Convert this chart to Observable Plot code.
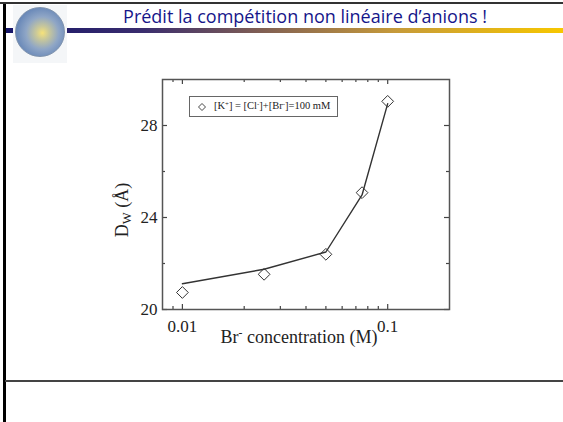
<!DOCTYPE html>
<html><head><meta charset="utf-8">
<script src="https://cdn.jsdelivr.net/npm/d3@7"></script>
<script src="https://cdn.jsdelivr.net/npm/@observablehq/plot@0.6"></script>
<style>
html,body{margin:0;padding:0;background:#fff;}
#page{position:relative;width:563px;height:422px;overflow:hidden;background:#fff;}
#topline{position:absolute;left:0;top:2px;width:563px;height:2px;background:#333;}
#leftline{position:absolute;left:3px;top:4px;width:3px;height:418px;background:#000;}
#bar{position:absolute;left:3px;top:28px;width:560px;height:5px;background:linear-gradient(to right,#141468 0%,#3a2d6e 25%,#7d5c55 45%,#c69a3a 70%,#f7c700 100%);}
#logobox{position:absolute;left:13px;top:5px;width:54px;height:58px;background:#f4f6f8;}
#logo{position:absolute;left:15px;top:7px;width:48px;height:48px;border-radius:50%;border:1px solid #7f93ad;
  background:radial-gradient(circle at 55% 52%,#f6e27a 0%,#c9c89a 18%,#8fa6c6 45%,#5d7fb4 80%,#4a6da4 100%);}
#title{position:absolute;left:0;width:563px;top:4px;padding-left:47px;box-sizing:border-box;text-align:center;font-family:"Comic Sans MS","Open Sans",sans-serif;font-size:18px;color:#16168a;white-space:nowrap;}
#bottomline{position:absolute;left:5px;top:380px;width:558px;height:2px;background:#444;}
#chart{position:absolute;left:100px;top:60px;}
#legend{position:absolute;left:189px;top:96px;width:147px;height:19px;border:1px solid #666;font-family:"Liberation Serif",serif;font-size:10.5px;color:#222;white-space:nowrap;}
#legend svg{position:absolute;left:8px;top:6px;}
#legend span.t{position:absolute;left:24px;top:3px;}
sup{font-size:65%;vertical-align:0.5em;line-height:0;}
sub{font-size:70%;vertical-align:-0.3em;line-height:0;}
#ylab{position:absolute;left:122px;top:210px;transform:translate(-50%,-50%) rotate(-90deg);font-family:"Liberation Serif",serif;font-size:18px;color:#222;white-space:nowrap;}
#xlab{position:absolute;left:299px;top:327px;transform:translateX(-50%);font-family:"Liberation Serif",serif;font-size:18px;color:#222;white-space:nowrap;}
</style></head><body>
<div id="page">
  <div id="topline"></div>
  <div id="bar"></div>
  <div id="leftline"></div>
  <div id="logobox"></div>
  <div id="logo"></div>
  <div id="title">Prédit la compétition non linéaire d’anions !</div>
  <div id="chart"></div>
  <div id="legend"><svg width="8" height="8"><polygon points="4,0.5 7.5,4 4,7.5 0.5,4" fill="none" stroke="#333" stroke-width="0.9"/></svg><span class="t">[K<sup>+</sup>] = [Cl<sup>-</sup>]+[Br<sup>-</sup>]=100 mM</span></div>
  <div id="ylab">D<sub>W</sub> (Å)</div>
  <div id="xlab">Br<sup>-</sup> concentration (M)</div>
  <div id="bottomline"></div>
</div>
<script>
// Measured data (Br- concentration in M, D_W in Å)
const concentration = [0.01, 0.025, 0.05, 0.075, 0.1];
const dw = [20.74, 21.53, 22.40, 25.08, 29.05];
// Fitted curve
const fitConcentration = [0.01, 0.025, 0.05, 0.075, 0.1];
const fitDw = [21.12, 21.75, 22.50, 24.98, 28.95];
// Tick values
const xLabelTicks = [0.01, 0.1];
const xMinorTicks = [0.009, 0.02, 0.03, 0.04, 0.05, 0.06, 0.07, 0.08, 0.09];
const yLabelTicks = [20, 24, 28];
const yMinorTicks = [22, 26];

const W = 370, H = 300, mL = 62, mR = 21, mT = 19, mB = 51;
const fw = W - mL - mR, fh = H - mT - mB;
const majorLen = 5, minorLen = 3;

const points = concentration.map((c, i) => ({c, d: dw[i]}));
const fit = fitConcentration.map((c, i) => ({c, d: fitDw[i]}));
const ink = "#333";
const tickStyle = {stroke: "#444", strokeWidth: 1.2};

const chart = Plot.plot({
  width: W, height: H,
  marginLeft: mL, marginRight: mR, marginTop: mT, marginBottom: mB,
  x: {type: "log", domain: [0.008, 0.2], label: null},
  y: {domain: [20, 30], label: null},
  style: {background: "transparent", color: "#222"},
  marks: [
    Plot.axisX({ticks: xLabelTicks, tickSize: 0, tickPadding: 10, tickFormat: d => String(d), fontSize: 17, fontFamily: "Liberation Serif", label: null}),
    Plot.axisY({ticks: yLabelTicks, tickSize: 0, tickPadding: 5, tickFormat: d => String(d), fontSize: 17, fontFamily: "Liberation Serif", label: null}),
    // inward ticks, bottom/top
    Plot.tickX(xLabelTicks, {x: d => d, insetTop: fh - majorLen, ...tickStyle}),
    Plot.tickX(xLabelTicks, {x: d => d, insetBottom: fh - majorLen, ...tickStyle}),
    Plot.tickX(xMinorTicks, {x: d => d, insetTop: fh - minorLen, ...tickStyle}),
    Plot.tickX(xMinorTicks, {x: d => d, insetBottom: fh - minorLen, ...tickStyle}),
    // inward ticks, left/right
    Plot.tickY(yLabelTicks, {y: d => d, insetRight: fw - majorLen, ...tickStyle}),
    Plot.tickY(yLabelTicks, {y: d => d, insetLeft: fw - majorLen, ...tickStyle}),
    Plot.tickY(yMinorTicks, {y: d => d, insetRight: fw - minorLen, ...tickStyle}),
    Plot.tickY(yMinorTicks, {y: d => d, insetLeft: fw - minorLen, ...tickStyle}),
    Plot.frame({stroke: "#555", strokeWidth: 1.5}),
    Plot.line(fit, {x: "c", y: "d", stroke: ink, strokeWidth: 1.4}),
    Plot.dot(points, {x: "c", y: "d", symbol: "diamond2", r: 5.3, fill: "none", stroke: ink, strokeWidth: 1})
  ]
});
document.getElementById("chart").appendChild(chart);
</script>
</body></html>
